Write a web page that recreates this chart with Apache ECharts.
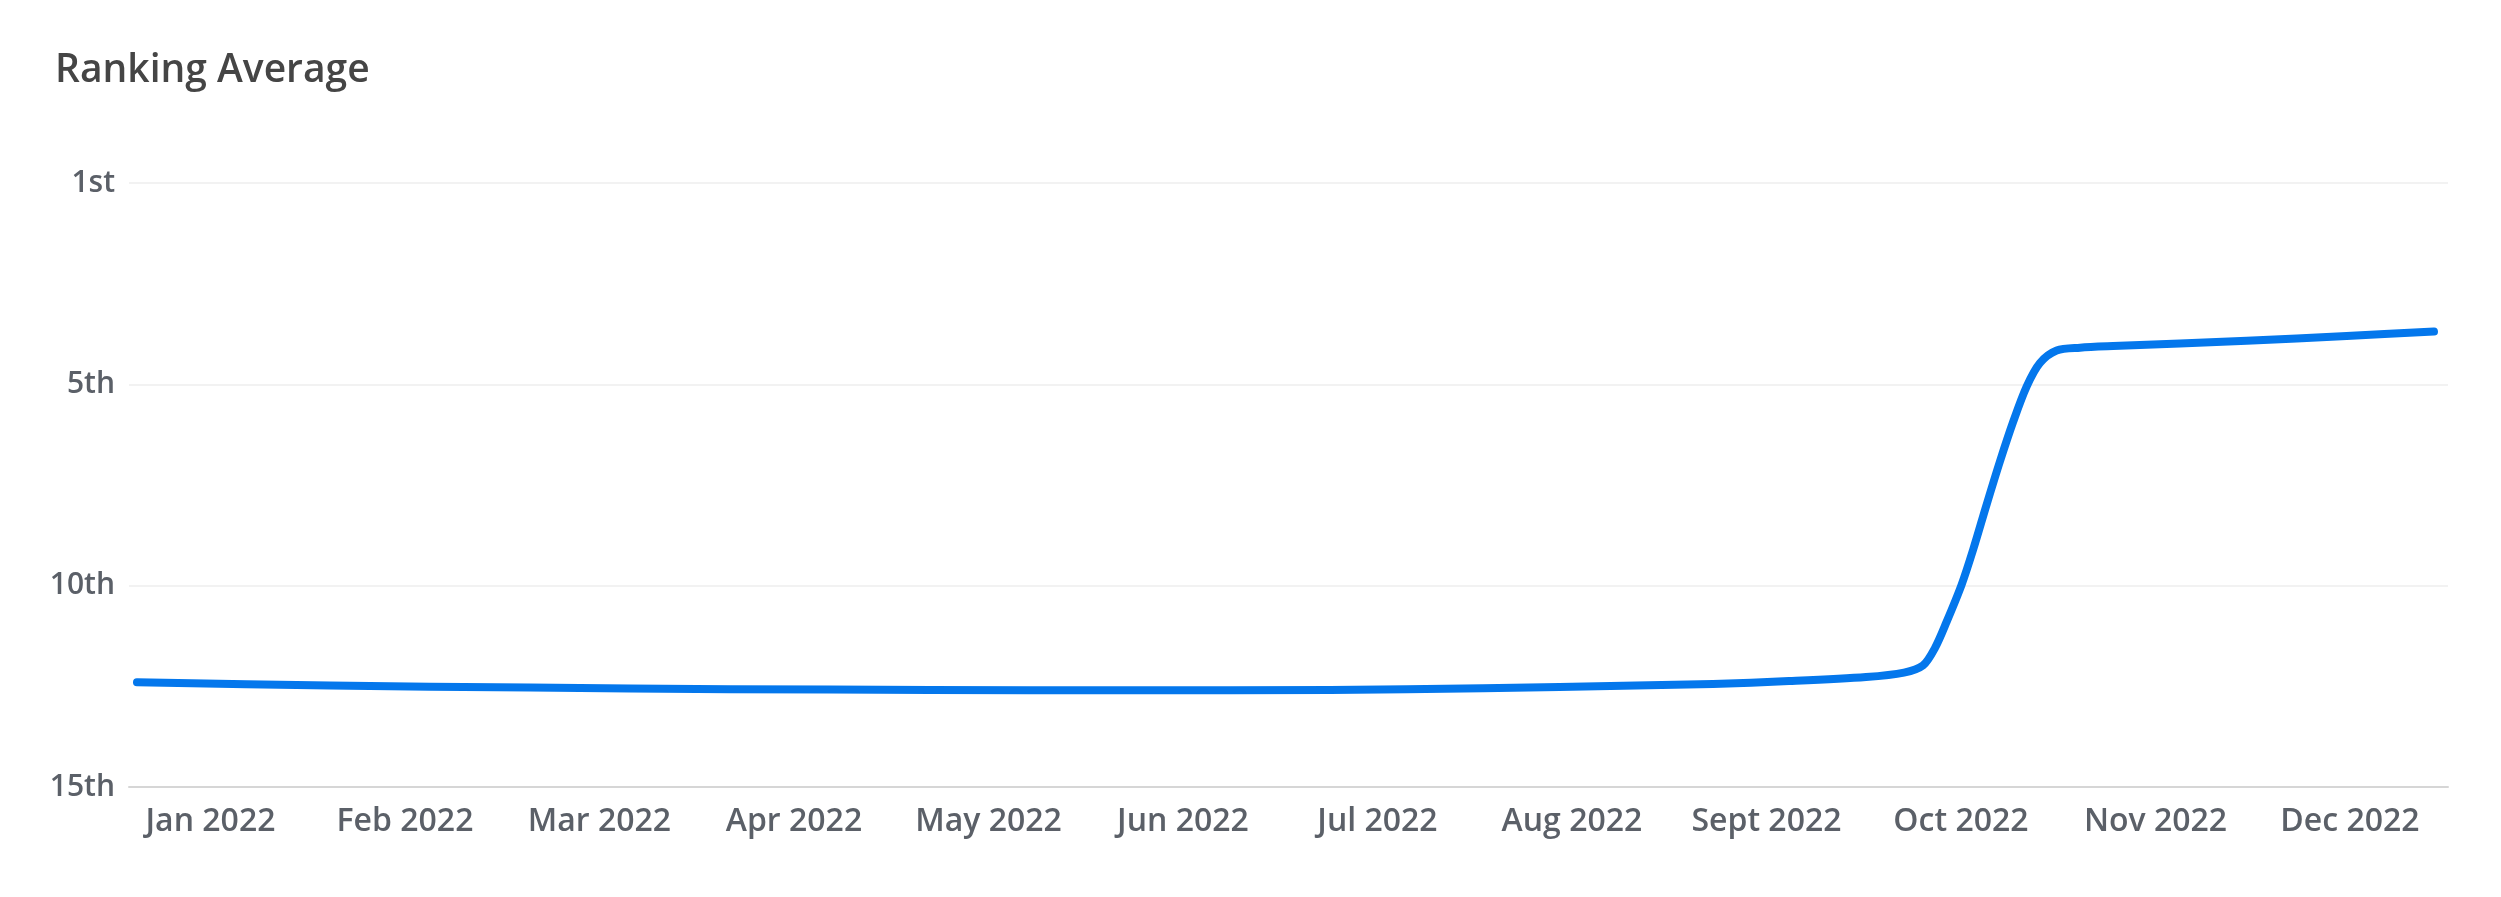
<!DOCTYPE html>
<html>
<head>
<meta charset="utf-8">
<script src="https://cdn.jsdelivr.net/npm/echarts@6/dist/echarts.min.js"></script>
<style>
  html, body { margin: 0; padding: 0; background: #ffffff; }
  #chart { width: 2501px; height: 897px; }
</style>
</head>
<body>
<div id="chart"></div>
<script>
// Month labels (x axis, month index 0..11)
var monthLabels = ['Jan 2022','Feb 2022','Mar 2022','Apr 2022','May 2022','Jun 2022',
                   'Jul 2022','Aug 2022','Sept 2022','Oct 2022','Nov 2022','Dec 2022'];
var monthTicks = [0,1,2,3,4,5,6,7,8,9,10,11];

// Rank tick labels (y axis)
var rankTickValues = [0, 5, 10, 15];
var rankTickLabels = ['1st', '5th', '10th', '15th'];

// Series: position along the time axis (in months, Jan 2022 = 0) and ranking average
var timePos = [-0.378, 0.614, 1.643, 2.671, 3.699, 4.728, 5.756, 6.542, 7.329, 7.725,
               8.116, 8.512, 8.707, 8.805, 8.866, 8.926, 9.003, 9.063, 9.131, 9.200,
               9.269, 9.338, 9.406, 9.492, 9.612, 9.782, 10.469, 10.983, 11.432];
var rankAvg = [12.40, 12.48, 12.53, 12.57, 12.59, 12.60, 12.59, 12.55, 12.48, 12.44,
               12.37, 12.27, 12.16, 11.98, 11.55, 10.90, 9.98, 9.10, 8.00, 6.92,
               5.92, 5.05, 4.47, 4.16, 4.09, 4.05, 3.92, 3.80, 3.69];

var seriesData = timePos.map(function (t, i) { return [t, rankAvg[i]]; });

var FONT = '"Open Sans", Lato, sans-serif';

var chart = echarts.init(document.getElementById('chart'), null, { renderer: 'canvas' });
chart.setOption({
  backgroundColor: '#ffffff',
  animation: false,
  title: {
    text: 'Ranking Average',
    left: 50,
    top: 46,
    textStyle: { fontFamily: FONT, fontSize: 39, fontWeight: 600, color: '#454545' }
  },
  grid: { left: 129, right: 53, top: 183, bottom: 110, containLabel: false },
  xAxis: {
    type: 'value',
    min: -0.419,
    max: 11.504,
    axisLine: { show: true, onZero: false, lineStyle: { color: '#d6d6d6', width: 2 } },
    axisTick: { show: false },
    splitLine: { show: false },
    axisLabel: {
      customValues: monthTicks,
      margin: 19,
      fontFamily: FONT,
      fontSize: 32,
      fontWeight: 600,
      color: '#5b6068',
      formatter: function (v) { return monthLabels[Math.round(v)]; }
    }
  },
  yAxis: {
    type: 'value',
    inverse: true,
    min: 0,
    max: 15,
    interval: 5,
    axisLine: { show: false },
    axisTick: { show: false },
    splitLine: { show: true, lineStyle: { color: '#f2f2f2', width: 2 } },
    axisLabel: {
      margin: 14,
      fontFamily: FONT,
      fontSize: 30,
      fontWeight: 600,
      color: '#5b6068',
      formatter: function (v) {
        var i = rankTickValues.indexOf(v);
        return i >= 0 ? rankTickLabels[i] : '';
      }
    }
  },
  series: [{
    type: 'line',
    data: seriesData,
    showSymbol: false,
    smooth: 0.3,
    lineStyle: { color: '#0477ec', width: 8, cap: 'round', join: 'round' },
    itemStyle: { color: '#0477ec' }
  }]
});
</script>
</body>
</html>
